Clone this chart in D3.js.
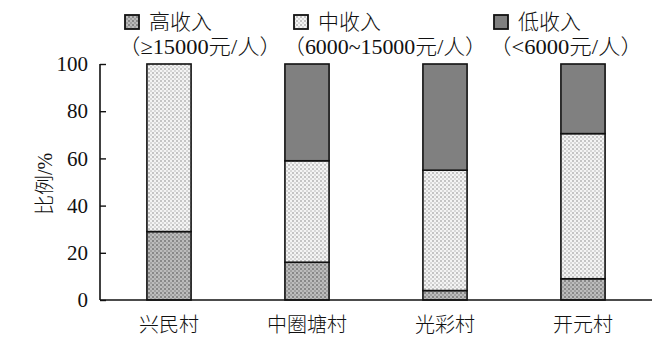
<!DOCTYPE html>
<html><head><meta charset="utf-8">
<script src="https://cdn.jsdelivr.net/npm/d3@7"></script>
<style>
body{margin:0;background:#fff;}
text{font-family:"Liberation Serif","Noto Sans CJK SC",serif;fill:#111;}
</style></head>
<body><svg id="c" width="659" height="361"></svg>
<script>
const villages = ["兴民村","中圈塘村","光彩村","开元村"];
const highIncome = [29, 16, 4, 9];
const midIncome = [71, 43, 51, 61.5];
const lowIncome = [0, 41, 45, 29.5];
const seriesNames = ["高收入","中收入","低收入"];
const seriesSub = ["（≥15000元/人）","（6000~15000元/人）","（<6000元/人）"];
const yTicks = [0,20,40,60,80,100];

const svg = d3.select("#c");
const defs = svg.append("defs");
const pm = defs.append("pattern").attr("id","pMid").attr("patternUnits","userSpaceOnUse").attr("width",4).attr("height",4);
pm.append("rect").attr("width",4).attr("height",4).attr("fill","#f4f4f4");
pm.append("rect").attr("x",0).attr("y",0).attr("width",2).attr("height",2).attr("fill","#c4c4c4");
pm.append("rect").attr("x",2).attr("y",2).attr("width",2).attr("height",2).attr("fill","#d8d8d8");
const ph = defs.append("pattern").attr("id","pHigh").attr("patternUnits","userSpaceOnUse").attr("width",4).attr("height",4);
ph.append("rect").attr("width",4).attr("height",4).attr("fill","#bcbcbc");
ph.append("rect").attr("x",0).attr("y",0).attr("width",2).attr("height",2).attr("fill","#888");
ph.append("rect").attr("x",2).attr("y",2).attr("width",2).attr("height",2).attr("fill","#a0a0a0");
const fills = ["url(#pHigh)","url(#pMid)","#808080"];

const x = d3.scaleBand().domain(villages).range([100,652]).paddingInner(0.68).paddingOuter(0.34);
const y = d3.scaleLinear().domain([0,100]).range([300,64]);

const data = villages.map((v,i)=>({village:v, high:highIncome[i], mid:midIncome[i], low:lowIncome[i]}));
const stack = d3.stack().keys(["high","mid","low"])(data);

stack.forEach((s,si)=>{
  svg.append("g").selectAll("rect").data(s.filter(d=>d[1]-d[0]>0)).join("rect")
    .attr("x",d=>x(d.data.village))
    .attr("width",x.bandwidth())
    .attr("y",d=>y(d[1]))
    .attr("height",d=>y(d[0])-y(d[1]))
    .attr("fill",fills[si])
    .attr("stroke","#111").attr("stroke-width",1.6);
});

const yAxis = d3.axisLeft(y).tickValues(yTicks).tickSize(-6).tickPadding(12);
const gy = svg.append("g").attr("transform","translate(100,0)").call(yAxis);
gy.select(".domain").attr("d","M0,"+y(100)+"V"+y(0)).attr("stroke","#111").attr("stroke-width",1.6);
gy.selectAll(".tick line").attr("stroke","#111").attr("stroke-width",1.4);
gy.selectAll("text").style("font-size","21px").style("font-family","Liberation Serif").attr("fill","#111");

const xAxis = d3.axisBottom(x).tickSize(0).tickPadding(12);
const gx = svg.append("g").attr("transform","translate(0,300)").call(xAxis);
gx.select(".domain").attr("d","M100,0H652").attr("stroke","#111").attr("stroke-width",1.6);
gx.selectAll("text").style("font-size","20px").style("font-family","Noto Sans CJK SC").style("font-weight","300").attr("fill","#111").attr("dy","1.0em");

svg.append("text").attr("transform","translate(52,184) rotate(-90)").attr("text-anchor","middle")
  .style("font-size","20px").style("font-weight","300").text("比例/%");

const legX = [125,294,494];
const subX = [118,283,489];
const subW = [164,204,154];
seriesNames.forEach((n,i)=>{
  svg.append("rect").attr("x",legX[i]).attr("y",15).attr("width",14).attr("height",14)
    .attr("fill",fills[i]).attr("stroke","#111").attr("stroke-width",1.8);
  svg.append("text").attr("x",legX[i]+24).attr("y",29).style("font-size","21px").style("font-weight","300")
    .style("font-family","Noto Sans CJK SC").text(n);
  svg.append("text").attr("x",subX[i]).attr("y",54).style("font-size","21px").style("font-weight","300")
    .attr("textLength",subW[i]).attr("lengthAdjust","spacingAndGlyphs").text(seriesSub[i]);
});
</script></body></html>
